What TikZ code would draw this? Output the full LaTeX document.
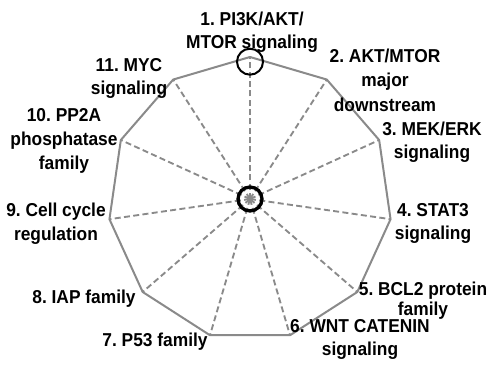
\documentclass[tikz,border=0pt]{standalone}
\usepackage{fontspec}
\setmainfont{Liberation Sans}[FakeStretch=0.93]
\usepackage{xcolor}
\definecolor{dgray}{rgb}{0.54,0.54,0.54}
\frenchspacing
\tikzset{lbl/.style={font=\fontsize{14}{17.5}\selectfont\bfseries, align=center, anchor=north, inner sep=0pt}}

\begin{document}
\begin{tikzpicture}[x=0.75pt, y=0.75pt]
\useasboundingbox (-250,-168) rectangle (238,199);
\coordinate (c) at (0,0);
\foreach \i in {0,...,10}
  \coordinate (v\i) at ({90-\i*360/11}:142);
% outer polygon and spokes
\draw[dgray, line width=1.5pt, line join=round] (v0) \foreach \i in {1,...,10} {-- (v\i)} -- cycle;
\foreach \i in {0,...,10}
  \draw[dgray, line width=1.4pt, dash pattern=on 4.5pt off 2.5pt] (c) -- (v\i);
\draw[black, line width=2.5pt] (c) circle (9pt);
\draw[black, line width=1.5pt] (0,137.3) circle (9.75pt);
% labels
\node[lbl] (l1) at (2,187.3) {1. PI3K/AKT/\\MTOR signaling};
\node[lbl, font=\fontsize{14}{18.5}\selectfont\bfseries] (l2) at (135,150.7) {2. AKT/MTOR\\major\\downstream};
\node[lbl] (l3) at (182,77.3) {3. MEK/ERK\\signaling};
\node[lbl] (l4) at (183,-4.3) {4. STAT3\\signaling};
\node[lbl, font=\fontsize{14}{15}\selectfont\bfseries] (l5) at (173,-83) {5. BCL2 protein\\family};
\node[lbl] (l6) at (110,-120) {6. WNT CATENIN\\signaling};
\node[lbl] (l7) at (-95,-134) {7. P53 family};
\node[lbl] (l8) at (-166,-90.3) {8. IAP family};
\node[lbl] (l9) at (-194,-4) {9. Cell cycle\\regulation};
\node[lbl, font=\fontsize{14}{18}\selectfont\bfseries] (l10) at (-186,90.7) {10. PP2A\\phosphatase\\family};
\node[lbl] (l11) at (-121,140.7) {11. MYC\\signaling};
\end{tikzpicture}
\end{document}
